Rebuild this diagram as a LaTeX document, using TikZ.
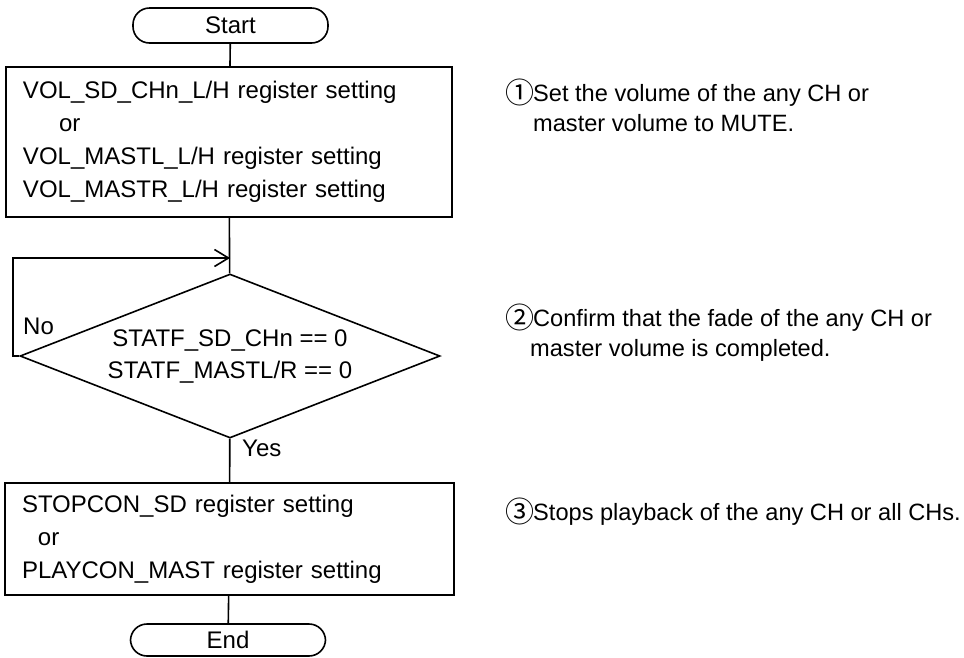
\documentclass[tikz,border=0pt]{standalone}
\usepackage{fontspec}
\setmainfont{Liberation Sans}
\newfontfamily\cjk{Noto Sans CJK JP}
\usetikzlibrary{shapes.geometric,arrows.meta}
\newcommand{\circnum}[1]{\makebox[26pt][c]{\raisebox{-2pt}{\fontsize{29}{30}\cjk #1}}}
\tikzset{
  every node/.style={font=\fontsize{24}{33}\selectfont},
  conn/.style={line width=1.6pt},
  terminal/.style={draw,line width=1.6pt,rectangle,rounded corners=16.5pt,minimum width=195pt,inner sep=0pt},
  procbox/.style={draw,line width=1.6pt,rectangle,align=left,inner xsep=17pt,inner ysep=0pt},
  decision/.style={draw,line width=1.6pt,diamond,aspect=2.56,minimum width=420pt,minimum height=164pt,inner sep=0pt,align=center,font=\fontsize{24}{32}\selectfont},
  lbl/.style={inner sep=0pt,anchor=west},
  note/.style={inner sep=0pt,anchor=base west,align=left,font=\fontsize{23.6}{30}\selectfont}
}
\begin{document}
\begin{tikzpicture}[x=1pt,y=-1pt]
\useasboundingbox (0,0) rectangle (964,657);
\node[terminal,minimum height=35pt] (start) at (230.5,25.5) {Start};
\node[procbox,text width=412pt,minimum height=150pt] (b1) at (229,142) {VOL\_SD\_CHn\_L/H register setting\\\hspace*{36pt}or\\VOL\_MASTL\_L/H register setting\\VOL\_MASTR\_L/H register setting};
\node[decision] (dia) at (230,356) {STATF\_SD\_CHn == 0\\STATF\_MASTL/R == 0};
\node[procbox,text width=415pt,minimum height=112pt] (b2) at (229.5,539) {STOPCON\_SD register setting\\\hspace*{16pt}or\\PLAYCON\_MAST register setting};
\node[terminal,minimum height=32pt] (end) at (228,640) {End};
\coordinate (join) at (230,258);
\draw[conn] (start) -- (b1);
\draw[conn] (b1) -- (dia);
\draw[conn] (dia) -- (b2);
\draw[conn] (b2) -- (end);
\draw[conn,-{Straight Barb[length=14pt,width=17pt,line width=1.6pt]}] (dia.west) -- ++(-6,0) |- (join);
\node[lbl] (no) at (23,326) {No};
\node[lbl] (yes) at (242,448) {Yes};
\node[note] (n1) at (507,131.5) {\circnum{①}Set the volume of the any CH or\\\hspace*{26pt}master volume to MUTE.};
\node[note] (n2) at (507,356.5) {\circnum{②}Confirm that the fade of the any CH or\\\hspace*{23pt}master volume is completed.};
\node[note] (n3) at (507,520.5) {\circnum{③}Stops playback of the any CH or all CHs.};
\end{tikzpicture}
\end{document}
